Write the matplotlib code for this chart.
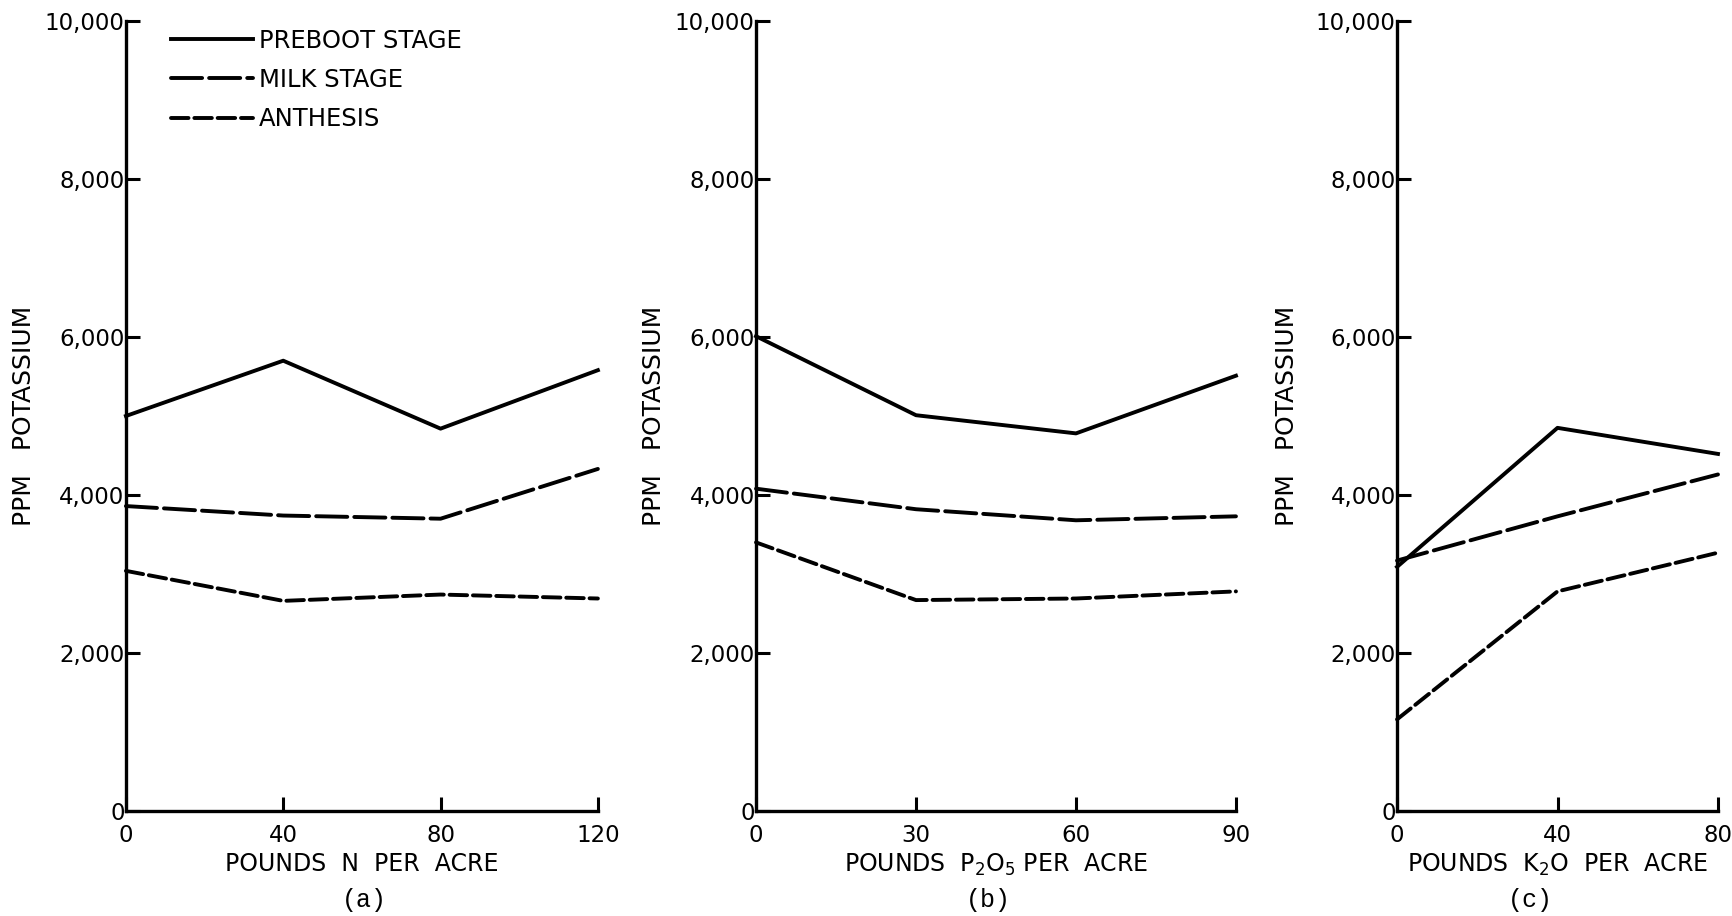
import matplotlib
matplotlib.use('Agg')
import matplotlib.pyplot as plt

# data (ppm potassium)
stages = ['PREBOOT STAGE', 'MILK STAGE', 'ANTHESIS']

n_rates = [0, 40, 80, 120]
n_preboot = [5000, 5700, 4840, 5580]
n_milk = [3860, 3740, 3700, 4330]
n_anthesis = [3040, 2660, 2740, 2690]

p_rates = [0, 30, 60, 90]
p_preboot = [6010, 5010, 4780, 5510]
p_milk = [4080, 3820, 3680, 3730]
p_anthesis = [3400, 2670, 2690, 2780]

k_rates = [0, 40, 80]
k_preboot = [3090, 4850, 4520]
k_milk = [3170, 3730, 4260]
k_anthesis = [1160, 2780, 3270]

y_ticks = [0, 2000, 4000, 6000, 8000, 10000]
y_ticklabels = ['0', '2,000', '4,000', '6,000', '8,000', '10,000']

xlabels = ['POUNDS  N  PER  ACRE',
           r'POUNDS  P$_\mathregular{2}$O$_\mathregular{5}$ PER  ACRE',
           r'POUNDS  K$_\mathregular{2}$O  PER  ACRE']
sublabels = ['(a)', '(b)', '(c)']

plt.rcParams['font.family'] = ['DejaVu Sans']

fig = plt.figure(figsize=(17.32, 9.16), dpi=100)
boxes = [[0.0727, 0.1146, 0.2725, 0.8625],
         [0.4365, 0.1146, 0.2771, 0.8625],
         [0.8066, 0.1146, 0.1853, 0.8625]]
ylab_x = [-0.191, -0.1875, -0.305]
sub_x = [0.506, 0.485, 0.414]

panels = [(n_rates, n_preboot, n_milk, n_anthesis),
          (p_rates, p_preboot, p_milk, p_anthesis),
          (k_rates, k_preboot, k_milk, k_anthesis)]

styles = ['-', (0, (8, 1.8)), (0, (4.5, 1.5))]

for i, (rates, pre, milk, anth) in enumerate(panels):
    ax = fig.add_axes(boxes[i])
    lines = []
    for vals, ls, name in zip([pre, milk, anth], styles, stages):
        l, = ax.plot(rates, vals, color='black', linestyle=ls, linewidth=2.8,
                     dash_capstyle='round', label=name, clip_on=False)
        lines.append(l)
    ax.set_xlim(rates[0], rates[-1])
    ax.set_ylim(0, 10000)
    ax.set_xticks(rates)
    ax.set_yticks(y_ticks)
    ax.set_yticklabels(y_ticklabels)
    ax.spines['top'].set_visible(False)
    ax.spines['right'].set_visible(False)
    ax.spines['left'].set_linewidth(2.4)
    ax.spines['bottom'].set_linewidth(2.4)
    ax.tick_params(direction='in', length=10, width=2.2, labelsize=16.5)
    ax.tick_params(axis='x', pad=9)
    ax.tick_params(axis='y', pad=1)
    ax.set_ylabel('PPM   POTASSIUM', fontsize=18)
    ax.yaxis.set_label_coords(ylab_x[i], 0.5)
    ax.set_xlabel(xlabels[i], fontsize=17)
    ax.xaxis.set_label_coords(0.5, -0.052)
    ax.text(sub_x[i], -0.1127, sublabels[i], transform=ax.transAxes,
            ha='center', va='center', fontsize=18, family='Liberation Mono')
    if i == 0:
        ax.legend(handles=lines, loc='upper left', bbox_to_anchor=(0.095, 0.99),
                  frameon=False, fontsize=17.5, handlelength=3.4,
                  handletextpad=0.22, labelspacing=0.62, borderpad=0,
                  borderaxespad=0)

plt.savefig('out.png', dpi=100)
